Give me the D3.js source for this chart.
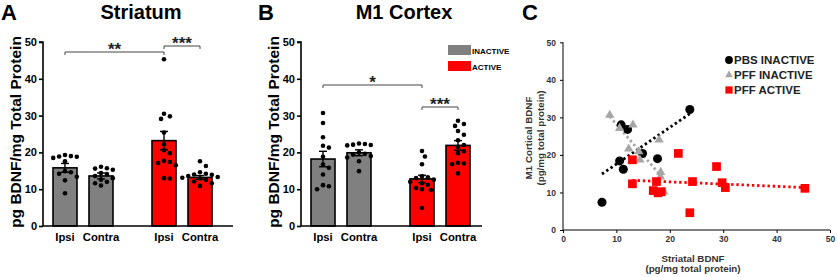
<!DOCTYPE html>
<html>
<head>
<meta charset="utf-8">
<script src="https://cdn.jsdelivr.net/npm/d3@7"></script>
<style>
  body { margin: 0; background: #fff; }
  svg { display: block; font-family: "Liberation Sans", Arial, sans-serif; font-weight: bold; }
</style>
</head>
<body>
<svg id="fig" width="837" height="277"></svg>
<script>
// ---- data ----
const groups = ["INACTIVE", "ACTIVE"];
const sides = ["Ipsi", "Contra"];

// bar order: inactive ipsi, inactive contra, active ipsi, active contra
const striatumMeans = [15.8, 13.6, 23.2, 13.2];
const striatumSem = [1.2, 0.8, 2.5, 0.5];
const striatumDots = [
    [19.3, 19.0, 18.8, 18.5, 18.9, 17.6, 14.6, 14.2, 14.9, 13.4, 12.4, 8.9],
    [16.1, 15.6, 15.3, 15.7, 14.4, 14.1, 13.6, 13.0, 12.6, 11.6, 11.0, 12.0],
    [45.3, 30.5, 29.8, 29.1, 25.4, 22.2, 20.6, 19.8, 17.4, 17.1, 16.5, 17.7, 13.0, 12.9],
    [17.6, 16.3, 14.6, 14.2, 14.0, 13.9, 13.6, 13.3, 13.1, 12.9, 12.5, 12.1, 11.6, 10.9]
];

const m1Means = [18.2, 19.9, 12.8, 21.9];
const m1Sem = [2.1, 0.8, 1.0, 1.3];
const m1Dots = [
    [30.7, 28.0, 24.1, 21.8, 21.3, 18.8, 16.7, 15.8, 14.0, 11.1, 10.8, 10.0],
    [22.3, 22.0, 22.1, 21.9, 22.4, 20.0, 19.6, 19.4, 19.0, 18.6, 17.6, 14.9],
    [20.4, 18.9, 16.8, 13.5, 13.2, 13.0, 12.6, 12.0, 11.6, 11.2, 10.3, 10.0, 9.8, 4.9],
    [28.6, 27.7, 27.2, 25.8, 24.8, 23.3, 22.0, 21.5, 20.3, 19.8, 17.2, 17.0, 16.8, 14.3]
];

const yTicks = [0, 10, 20, 30, 40, 50];

// scatter (striatal BDNF, M1 cortical BDNF)
const pbsInactiveX = [7.3, 10.6, 11.3, 10.9, 12.1, 14.9, 17.7, 23.75];
const pbsInactiveY = [7.4, 18.4, 16.2, 28.0, 26.8, 20.4, 19.0, 32.1];
const pffInactiveX = [8.75, 10.6, 13.1, 12.3, 14.2, 14.4, 18.0, 18.3, 18.25, 17.2, 18.9];
const pffInactiveY = [30.6, 27.1, 28.0, 21.6, 20.9, 18.7, 24.0, 15.4, 14.2, 10.2, 10.2];
const pffActiveX = [13.0, 13.0, 21.6, 17.5, 16.9, 17.8, 18.4, 24.25, 23.75, 28.75, 29.8, 30.4, 45.3];
const pffActiveY = [18.7, 12.3, 20.4, 12.9, 10.5, 9.9, 10.2, 12.9, 4.6, 16.9, 12.6, 11.3, 11.1];

const scatterTicks = [0, 10, 20, 30, 40, 50];

const GRAY = "#808080", RED = "#ff0000";
const svg = d3.select("#fig");

// simple beeswarm so dots spread sideways like the Prism plot
function swarm(values, y, r) {
    let placed = [];
    let d = 2 * r + 1.3;
    values.slice().sort((a, b) => b - a).forEach(v => {
        let py = y(v);
        for (let k = 0; k < 20; k++) {
            let off = (k % 2 ? 1 : -1) * Math.ceil(k / 2) * d * 0.5;
            if (k === 0) off = 0;
            let hit = placed.some(p => (p.x - off) ** 2 + (p.y - py) ** 2 < d * d * 0.95);
            if (!hit) { placed.push({x: off, y: py}); break; }
        }
    });
    return placed;
}

function barPanel(opt) {
    let g = svg.append("g");
    let y = d3.scaleLinear().domain([0, 50]).range([226, 42]);
    let gx = d3.scalePoint().domain(groups).range([opt.left + 40, opt.left + 139]);
    let inner = d3.scaleBand().domain(sides).range([-36, 36]).paddingInner(1 / 3).paddingOuter(1 / 6);

    let bars = [];
    groups.forEach((gr, gi) => sides.forEach((s, si) => {
        let i = gi * 2 + si;
        bars.push({g: gr, s: s, mean: opt.means[i], sem: opt.sem[i], dots: opt.dots[i],
            cx: gx(gr) + inner(s) + inner.bandwidth() / 2});
    }));
    let bw = inner.bandwidth();

    // bars
    g.selectAll("rect.bar").data(bars).enter().append("rect")
        .attr("x", d => d.cx - bw / 2)
        .attr("y", d => y(d.mean))
        .attr("width", bw)
        .attr("height", d => y(0) - y(d.mean))
        .attr("fill", d => d.g === "INACTIVE" ? GRAY : RED)
        .attr("stroke", "#000").attr("stroke-width", 1.6);

    // error bars (mean +/- sem)
    let eb = g.selectAll("g.eb").data(bars).enter().append("g");
    eb.append("line").attr("x1", d => d.cx).attr("x2", d => d.cx)
        .attr("y1", d => y(d.mean - d.sem)).attr("y2", d => y(d.mean + d.sem))
        .attr("stroke", "#000").attr("stroke-width", 1.4);
    [1, -1].forEach(sg => {
        eb.append("line").attr("x1", d => d.cx - 4).attr("x2", d => d.cx + 4)
            .attr("y1", d => y(d.mean + sg * d.sem)).attr("y2", d => y(d.mean + sg * d.sem))
            .attr("stroke", "#000").attr("stroke-width", 1.4);
    });

    // dots
    bars.forEach(b => {
        g.selectAll(null).data(swarm(b.dots, y, 2.3)).enter().append("circle")
            .attr("cx", p => b.cx + p.x).attr("cy", p => p.y).attr("r", 2.3).attr("fill", "#000");
    });

    // axes
    g.append("g").attr("transform", "translate(" + opt.left + ",0)")
        .call(d3.axisLeft(y).tickValues(yTicks).tickSize(4).tickPadding(2))
        .call(a => a.selectAll("text").attr("font-size", 11).attr("font-weight", "bold").attr("fill", "#000").attr("font-family", null))
        .call(a => a.selectAll("line,path").attr("stroke-width", 1.6));
    g.select(".domain").attr("d", "M-4," + y(50) + "H0V" + y(0));
    g.append("line").attr("x1", opt.left).attr("x2", opt.right)
        .attr("y1", y(0)).attr("y2", y(0)).attr("stroke", "#000").attr("stroke-width", 1.6);

    g.selectAll("text.xl").data(bars).enter().append("text")
        .attr("x", d => d.cx).attr("y", 241).attr("text-anchor", "middle")
        .attr("font-size", 11.3).text(d => d.s);

    // labels
    g.append("text").attr("transform", "translate(" + (opt.left - 22) + ",132) rotate(-90)")
        .attr("text-anchor", "middle").attr("font-size", 15.5).text("pg BDNF/mg Total Protein");
    g.append("text").attr("x", opt.titleX).attr("y", 19).attr("text-anchor", "middle")
        .attr("font-size", 20).text(opt.title);
    g.append("text").attr("x", opt.letterX).attr("y", 20).attr("font-size", 22).text(opt.letter);

    // significance brackets
    opt.sig.forEach(s => {
        let x1 = bars[s.a].cx, x2 = bars[s.b].cx;
        g.append("path").attr("d", "M" + x1 + "," + (s.y + 3) + "V" + s.y + "H" + x2 + "V" + (s.y + 3))
            .attr("fill", "none").attr("stroke", "#444").attr("stroke-width", 1);
        g.append("text").attr("x", (x1 + x2) / 2).attr("y", s.y + 3).attr("text-anchor", "middle")
            .attr("font-size", 17).attr("fill", "#222").text(s.label);
    });
    return g;
}

barPanel({left: 43, right: 233, means: striatumMeans, sem: striatumSem, dots: striatumDots,
    title: "Striatum", titleX: 141, letter: "A", letterX: 1,
    sig: [{a: 0, b: 2, y: 52, label: "**"}, {a: 2, b: 3, y: 46, label: "***"}]});

let gB = barPanel({left: 301, right: 482, means: m1Means, sem: m1Sem, dots: m1Dots,
    title: "M1 Cortex", titleX: 404, letter: "B", letterX: 258,
    sig: [{a: 0, b: 2, y: 85, label: "*"}, {a: 2, b: 3, y: 107, label: "***"}]});

// legend for panel B
const legB = gB.selectAll("g.leg").data(groups).enter().append("g")
    .attr("transform", (d, i) => "translate(448," + (45 + i * 16) + ")");
legB.append("rect").attr("width", 23).attr("height", 10).attr("fill", d => d === "INACTIVE" ? GRAY : RED);
legB.append("text").attr("x", 24).attr("y", 8.5).attr("font-size", 8).text(d => d);

// ---- panel C scatter ----
const gC = svg.append("g");
const xs = d3.scaleLinear().domain([0, 50]).range([563, 830]);
const ys = d3.scaleLinear().domain([0, 50]).range([230, 42.3]);

gC.append("g").attr("transform", "translate(0,230)")
    .call(d3.axisBottom(xs).tickValues(scatterTicks).tickSize(3).tickPadding(3))
    .call(a => a.selectAll("text").attr("font-size", 8.5).attr("fill", "#333").attr("font-family", null))
    .call(a => a.select(".domain").attr("d", "M563,0H830"));
gC.append("g").attr("transform", "translate(563,0)")
    .call(d3.axisLeft(ys).tickValues(scatterTicks).tickSize(3).tickPadding(4))
    .call(a => a.selectAll("text").attr("font-size", 8.5).attr("fill", "#333").attr("font-family", null))
    .call(a => a.select(".domain").attr("d", "M0," + ys(50) + "V" + ys(0)));

gC.append("text").attr("x", 522).attr("y", 20).attr("font-size", 22).text("C");

gC.append("text").attr("transform", "translate(532,138) rotate(-90)").attr("text-anchor", "middle")
    .attr("font-size", 9.8).attr("fill", "#333").text("M1 Cortical BDNF");
gC.append("text").attr("transform", "translate(544,138) rotate(-90)").attr("text-anchor", "middle")
    .attr("font-size", 9.8).attr("fill", "#333").text("(pg/mg total protein)");
gC.append("text").attr("x", 693).attr("y", 262).attr("text-anchor", "middle")
    .attr("font-size", 9.8).attr("fill", "#333").text("Striatal BDNF");
gC.append("text").attr("x", 693).attr("y", 272).attr("text-anchor", "middle")
    .attr("font-size", 9.8).attr("fill", "#333").text("(pg/mg total protein)");

const series = [
    {name: "PBS INACTIVE", x: pbsInactiveX, y: pbsInactiveY, color: "#000", shape: d3.symbolCircle, size: 64, legSize: 48},
    {name: "PFF INACTIVE", x: pffInactiveX, y: pffInactiveY, color: "#a6a6a6", shape: d3.symbolTriangle, size: 38, legSize: 26},
    {name: "PFF ACTIVE", x: pffActiveX, y: pffActiveY, color: RED, shape: d3.symbolSquare, size: 76, legSize: 52}
];

// least-squares trend line, dotted
series.forEach(s => {
    let pts = s.x.map((v, i) => [v, s.y[i]]);
    let mx = d3.mean(s.x), my = d3.mean(s.y);
    let slope = d3.sum(pts, p => (p[0] - mx) * (p[1] - my)) / d3.sum(pts, p => (p[0] - mx) ** 2);
    let ext = d3.extent(s.x);
    gC.append("line")
        .attr("x1", xs(ext[0])).attr("y1", ys(my + slope * (ext[0] - mx)))
        .attr("x2", xs(ext[1])).attr("y2", ys(my + slope * (ext[1] - mx)))
        .attr("stroke", s.color).attr("stroke-width", 2.8)
        .attr("stroke-dasharray", "2.4,2.8");
});

series.forEach(s => {
    gC.selectAll(null).data(s.x.map((v, i) => [v, s.y[i]])).enter().append("path")
        .attr("d", d3.symbol().type(s.shape).size(s.size))
        .attr("transform", p => "translate(" + xs(p[0]) + "," + ys(p[1]) + ")")
        .attr("fill", s.color);
});

const legC = gC.selectAll("g.legc").data(series).enter().append("g")
    .attr("transform", (d, i) => "translate(729," + (60 + i * 15) + ")");
legC.append("path").attr("d", d => d3.symbol().type(d.shape).size(d.legSize)()).attr("fill", d => d.color);
legC.append("text").attr("x", 5).attr("y", 4).attr("font-size", 11.5).attr("fill", "#222").text(d => d.name);
</script>
</body>
</html>
